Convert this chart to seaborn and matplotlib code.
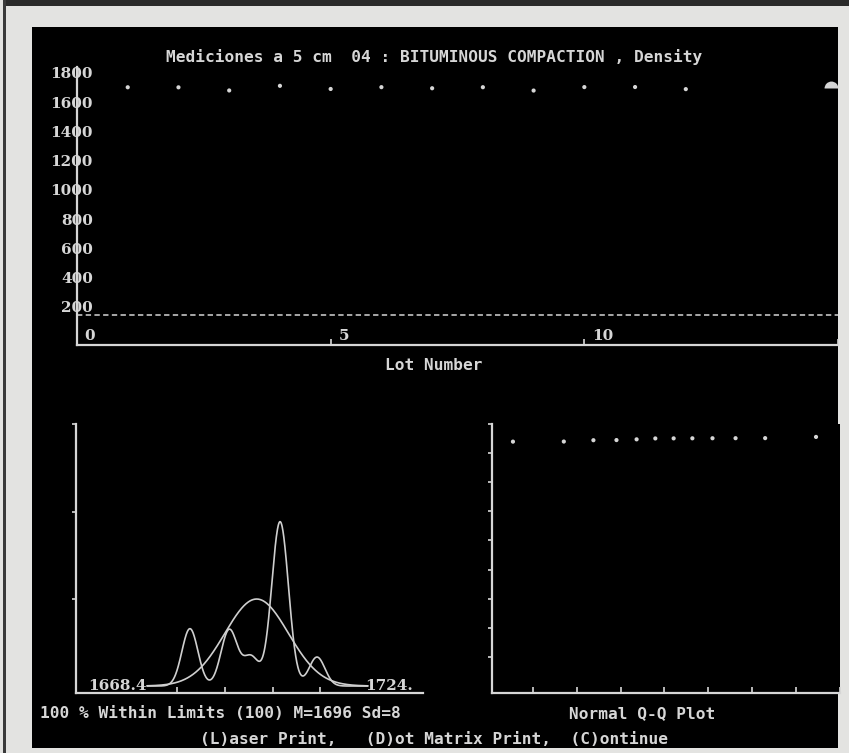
import numpy as np
import seaborn as sns
import matplotlib.pyplot as plt
from matplotlib.patches import Rectangle
from statistics import NormalDist

lots = list(range(1, 13))
density = [1701.3, 1700.9, 1679.5, 1711.2, 1689.6, 1702.1,
           1694.6, 1701.7, 1678.9, 1702.5, 1702.9, 1688.6]
lower_limit = 140
fit_mean = 1696
fit_sd = 8
range_lo = 1668.4
range_hi = 1724
pct_within = 100
top_yticks = [200, 400, 600, 800, 1000, 1200, 1400, 1600, 1800]
lot_labels = [0, 5, 10]
lot_ticks = [5, 10, 15]
hist_ticks = [1676, 1688, 1700, 1712]
qq_xticks = [-1.5, -1.0, -0.5, 0.0, 0.5, 1.0, 1.5, 2.0]
qq_yticks = [200, 400, 600, 800, 1000, 1200, 1400, 1600, 1800]

title = "Mediciones a 5 cm  04 : BITUMINOUS COMPACTION , Density"

sns.set_theme(style="ticks")
plt.rcParams['font.family'] = ['DejaVu Sans Mono', 'DejaVu Sans']

fg = '#d6d6d6'
W, H = 849, 753

fig = plt.figure(figsize=(W / 100, H / 100), dpi=100, facecolor='#e3e3e1')

# screen / scan frame
fig.add_artist(Rectangle((32 / W, 1 - 748 / H), (838 - 32) / W, (748 - 27) / H,
                         transform=fig.transFigure, facecolor='black', edgecolor='none', zorder=0))
fig.add_artist(Rectangle((5 / W, 1 - 6 / H), 1, 6 / H, transform=fig.transFigure,
                         facecolor='#2a2a2a', edgecolor='none', zorder=0))
fig.add_artist(Rectangle((3 / W, 0), 3 / W, 1, transform=fig.transFigure,
                         facecolor='#3a3a3a', edgecolor='none', zorder=0))


def style_axes(ax):
    ax.set_facecolor('black')
    for s in ['top', 'right']:
        ax.spines[s].set_visible(False)
    for s in ['left', 'bottom']:
        ax.spines[s].set_color(fg)
        ax.spines[s].set_linewidth(1.6)
    ax.tick_params(colors=fg, width=1.2)
    ax.set_xlabel('')
    ax.set_ylabel('')


num_font = dict(family='DejaVu Serif', weight='bold', color=fg)

# ---- top panel: density by lot
ax_top = fig.add_axes([77 / W, 1 - 345 / H, 761 / W, 278 / H])
sns.scatterplot(x=lots, y=density, ax=ax_top, color=fg, s=9, marker='o',
                edgecolor='none', legend=False)
ax_top.axhline(lower_limit, color=fg, lw=1.1, dashes=(3.5, 2.2))
ax_top.plot(14.87, np.mean(density), marker='o', fillstyle='top', ms=10, mew=0,
            color=fg, clip_on=False)
ax_top.set_xlim(0, 15)
ax_top.set_ylim(-62, 1840)
style_axes(ax_top)
ax_top.set_yticks(top_yticks)
ax_top.set_yticklabels([str(v) for v in top_yticks])
ax_top.tick_params(axis='y', length=0, pad=-11.5, labelsize=11)
for lbl in ax_top.get_yticklabels():
    lbl.set_fontfamily('DejaVu Serif')
    lbl.set_fontweight('bold')
    lbl.set_color(fg)
ax_top.set_xticks(lot_ticks)
ax_top.set_xticklabels([])
ax_top.tick_params(axis='x', direction='in', length=4)
for lot in lot_labels:
    ax_top.text(lot + 0.15, 0.006, str(lot), transform=ax_top.get_xaxis_transform(),
                ha='left', va='bottom', fontsize=11, **num_font)

fig.text(434.5 / W, 1 - 57 / H, title, ha='center', va='center', fontsize=11.6,
         color=fg, fontweight='bold')
fig.text(433.5 / W, 1 - 365 / H, "Lot Number", ha='center', va='center', fontsize=11.6,
         color=fg, fontweight='bold')

# ---- bottom left: smoothed histogram + normal fit
ax_kde = fig.add_axes([76 / W, 1 - 693 / H, 347 / W, 269 / H])
kernel_width = 2.0
sns.kdeplot(x=density, ax=ax_kde, bw_method=kernel_width / np.std(density, ddof=1),
            cut=25, clip=(range_lo, range_hi), gridsize=800, color='#cfcfcf', lw=1.2)
grid = np.linspace(range_lo, range_hi, 400)
normal = NormalDist(fit_mean, fit_sd)
sns.lineplot(x=grid, y=[normal.pdf(v) for v in grid], ax=ax_kde, color='#cfcfcf', lw=1.2,
             sort=False, estimator=None)
ax_kde.set_xlim(1650.5, 1737.9)
ax_kde.set_ylim(-0.004, 0.1502)
style_axes(ax_kde)
ax_kde.set_yticks([0.05, 0.10, 0.15])
ax_kde.set_yticklabels([])
ax_kde.tick_params(axis='y', direction='out', length=3)
ax_kde.set_xticks(hist_ticks)
ax_kde.set_xticklabels([])
ax_kde.tick_params(axis='x', direction='in', length=4)
ax_kde.text(range_lo, 0, f"{range_lo}", ha='right', va='center', fontsize=11, **num_font)
ax_kde.text(range_hi - 0.7, 0, f"{range_hi}.", ha='left', va='center', fontsize=11, **num_font)

# ---- bottom right: normal Q-Q plot
ax_qq = fig.add_axes([492 / W, 1 - 693 / H, 347.5 / W, 269 / H])
n = len(density)
theo = [NormalDist().inv_cdf((i + 0.5) / n) for i in range(n)]
sns.scatterplot(x=theo, y=sorted(density), ax=ax_qq, color=fg, s=9, marker='o',
                edgecolor='none', legend=False)
ax_qq.set_xlim(-1.971, 2.0)
ax_qq.set_ylim(-48, 1800)
style_axes(ax_qq)
ax_qq.set_yticks(qq_yticks)
ax_qq.set_yticklabels([])
ax_qq.tick_params(axis='y', direction='out', length=3)
ax_qq.set_xticks(qq_xticks)
ax_qq.set_xticklabels([])
ax_qq.tick_params(axis='x', direction='in', length=4)

# ---- footer text
fig.text(40 / W, 1 - 714 / H,
         f"{pct_within} % Within Limits ({pct_within}) M={fit_mean} Sd={fit_sd}",
         ha='left', va='center', fontsize=11.6, color=fg, fontweight='bold')
fig.text(642 / W, 1 - 714 / H, "Normal Q-Q Plot", ha='center', va='center',
         fontsize=11.6, color=fg, fontweight='bold')
fig.text(434 / W, 1 - 739 / H, "(L)aser Print,   (D)ot Matrix Print,  (C)ontinue",
         ha='center', va='center', fontsize=11.6, color=fg, fontweight='bold')

fig.savefig('out.png', dpi=100, facecolor=fig.get_facecolor())
